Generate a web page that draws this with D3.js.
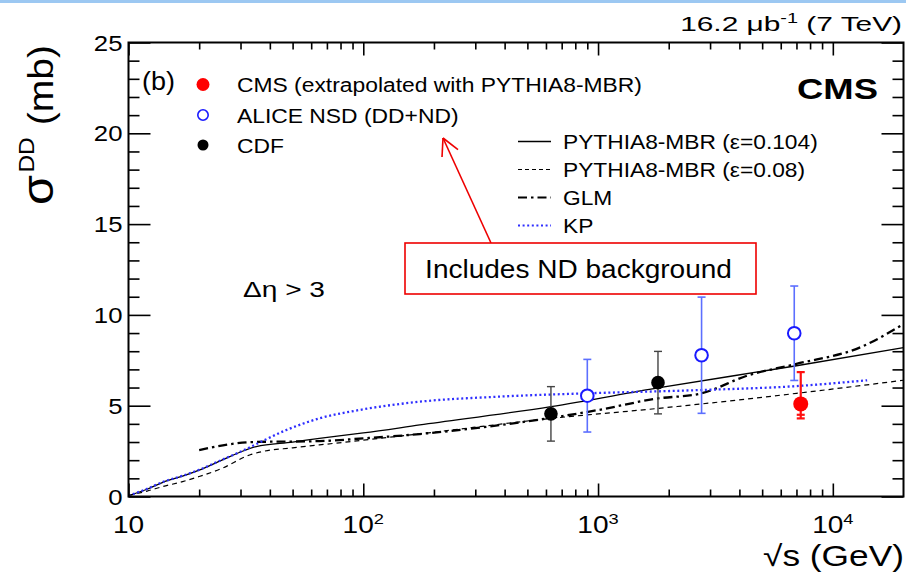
<!DOCTYPE html>
<html><head><meta charset="utf-8">
<script src="https://cdn.jsdelivr.net/npm/d3@7"></script>
<style>
body{margin:0;background:#fff}
svg{display:block}
text{font-family:"Liberation Sans",Arial,Helvetica,sans-serif;fill:#000}
</style>
</head><body>
<svg id="c" width="906" height="574"></svg>
<script>
// ---------------- data ----------------
const cdfSqrtS = [630, 1800];
const cdfSigma = [4.55, 6.27];
const cdfErr = [1.5, 1.72];

const aliceSqrtS = [900, 2760, 6850];
const aliceSigma = [5.55, 7.78, 8.99];
const aliceErr = [2.0, 3.2, 2.6];

const cmsSqrtS = [7300];
const cmsSigma = [5.1];
const cmsErrUp = [1.75];
const cmsErrDown = [0.8];
const cmsErrDownInner = [0.6];

const mbr104S = [10, 12, 14, 17, 20, 25, 31, 35, 50, 65, 100, 174, 630, 1800, 7000, 20000];
const mbr104V = [0.05, 0.4, 0.78, 1.12, 1.45, 2.0, 2.52, 2.75, 3.0, 3.2, 3.5, 3.94, 4.95, 5.98, 7.2, 8.2];
const mbr08S  = [10, 12, 14, 17, 20, 25, 33, 37, 50, 65, 100, 174, 630, 1800, 7000, 20000];
const mbr08V  = [0.05, 0.3, 0.55, 0.82, 1.1, 1.55, 2.3, 2.47, 2.68, 2.84, 3.1, 3.45, 4.3, 4.85, 5.68, 6.4];
const glmS = [20, 34, 65, 100, 174, 630, 1000, 1800, 2700, 4400, 7000, 13300, 20000];
const glmV = [2.56, 3.0, 3.05, 3.2, 3.44, 4.33, 4.76, 5.4, 5.65, 6.69, 7.3, 8.25, 9.5];
const kpS = [10, 12, 14, 17, 20, 25, 31, 36, 47, 65, 96, 174, 380, 890, 2700, 7000, 14000];
const kpV = [0.05, 0.42, 0.8, 1.14, 1.47, 2.02, 2.55, 2.96, 3.66, 4.3, 4.76, 5.22, 5.5, 5.68, 5.86, 6.08, 6.4];

const yMajorTicks = [0, 5, 10, 15, 20, 25];
const xMajorTicks = [10, 100, 1000, 10000];
const xTickLabels = [["10", ""], ["10", "2"], ["10", "3"], ["10", "4"]];

const legendPoints = ["CMS (extrapolated with PYTHIA8-MBR)", "ALICE NSD (DD+ND)", "CDF"];
const legendCurves = ["PYTHIA8-MBR (\u03b5=0.104)", "PYTHIA8-MBR (\u03b5=0.08)", "GLM", "KP"];

// ---------------- setup ----------------
const svg = d3.select("#c");
const L = 128.5, R = 903.5, T = 42.5, B = 496.5;
const x = d3.scaleLog().domain([10, 20000]).range([L, R]);
const y = d3.scaleLinear().domain([0, 25]).range([B, T]);

svg.append("rect").attr("x", 0).attr("y", 0).attr("width", 906).attr("height", 3).attr("fill", "#9cc8f2");

function addText(g, str, px, py, o) {
  const t = g.append("text")
    .attr("text-anchor", o.anchor || "start")
    .style("font-size", o.size + "px")
    .style("font-weight", o.weight || "normal");
  if (str !== null) t.text(str);
  t.attr("transform", `translate(${px},${py}) scale(${o.sx || 1},1)`);
  return t;
}
function fitWidth(t, px, py, target) {
  const w = t.node().getBBox().width;
  const s = target / w;
  t.attr("transform", `translate(${px},${py}) scale(${s},1)`);
  return s;
}

// ---------------- curves ----------------
const line = d3.line().x(d => x(d[0])).y(d => y(d[1])).curve(d3.curveMonotoneX);
const gc = svg.append("g");
function curve(S, V, style) {
  gc.append("path").datum(S.map((s, i) => [s, V[i]]))
    .attr("d", line).attr("fill", "none")
    .attr("stroke", style.color).attr("stroke-width", style.w)
    .attr("stroke-dasharray", style.dash || null);
}
const styles = [
  {color: "#000", w: 1.3},
  {color: "#000", w: 1.2, dash: "5,4"},
  {color: "#000", w: 2.3, dash: "9,4,2.5,4"},
  {color: "#2f2fff", w: 2.3, dash: "2,2.6"}
];
curve(mbr104S, mbr104V, styles[0]);
curve(mbr08S, mbr08V, styles[1]);
curve(glmS, glmV, styles[2]);
curve(kpS, kpV, styles[3]);

// ---------------- data points ----------------
const gp = svg.append("g");
function errBar(cx, y1, y2, color, w) {
  gp.append("line").attr("x1", cx).attr("x2", cx).attr("y1", y1).attr("y2", y2).attr("stroke", color).attr("stroke-width", w);
}
function cap(cx, cy, color, w) {
  gp.append("line").attr("x1", cx - 4).attr("x2", cx + 4).attr("y1", cy).attr("y2", cy).attr("stroke", color).attr("stroke-width", w);
}
cdfSqrtS.forEach((s, i) => {
  const cx = x(s);
  errBar(cx, y(cdfSigma[i] - cdfErr[i]), y(cdfSigma[i] + cdfErr[i]), "#444", 1.4);
  cap(cx, y(cdfSigma[i] - cdfErr[i]), "#444", 1.4);
  cap(cx, y(cdfSigma[i] + cdfErr[i]), "#444", 1.4);
  gp.append("circle").attr("cx", cx).attr("cy", y(cdfSigma[i])).attr("r", 6.8).attr("fill", "#000");
});
aliceSqrtS.forEach((s, i) => {
  const cx = x(s);
  errBar(cx, y(aliceSigma[i] - aliceErr[i]), y(aliceSigma[i] + aliceErr[i]), "#5c6fff", 1.6);
  cap(cx, y(aliceSigma[i] - aliceErr[i]), "#5c6fff", 1.6);
  cap(cx, y(aliceSigma[i] + aliceErr[i]), "#5c6fff", 1.6);
  gp.append("circle").attr("cx", cx).attr("cy", y(aliceSigma[i])).attr("r", 6.3)
    .attr("fill", "#fff").attr("stroke", "#1a1aff").attr("stroke-width", 2);
});
cmsSqrtS.forEach((s, i) => {
  const cx = x(s);
  errBar(cx, y(cmsSigma[i] - cmsErrDown[i]), y(cmsSigma[i] + cmsErrUp[i]), "#ff1010", 2.2);
  cap(cx, y(cmsSigma[i] + cmsErrUp[i]), "#ff1010", 2.2);
  cap(cx, y(cmsSigma[i] - cmsErrDown[i]), "#ff1010", 2.2);
  cap(cx, y(cmsSigma[i] - cmsErrDownInner[i]), "#ff1010", 2.2);
  gp.append("circle").attr("cx", cx).attr("cy", y(cmsSigma[i])).attr("r", 7.5).attr("fill", "#ff0000");
});

// ---------------- axes (ticks) ----------------
const xMinor = [];
[10, 100, 1000, 10000].forEach(d => { for (let k = 2; k <= 9; k++) { const v = d * k; if (v < 20000) xMinor.push(v); } });
const yMinor = d3.range(0, 26).filter(v => v % 5 !== 0);

function styleAxis(g) {
  g.select(".domain").remove();
  g.selectAll("line").attr("stroke", "#000").attr("stroke-width", 1.6);
  g.selectAll("text").remove();
}
svg.append("g").attr("transform", `translate(0,${B})`).call(d3.axisBottom(x).tickValues(xMajorTicks).tickSize(-13).tickFormat("")).call(styleAxis);
svg.append("g").attr("transform", `translate(0,${B})`).call(d3.axisBottom(x).tickValues(xMinor).tickSize(-7).tickFormat("")).call(styleAxis);
svg.append("g").attr("transform", `translate(0,${T})`).call(d3.axisTop(x).tickValues(xMajorTicks).tickSize(-13).tickFormat("")).call(styleAxis);
svg.append("g").attr("transform", `translate(0,${T})`).call(d3.axisTop(x).tickValues(xMinor).tickSize(-7).tickFormat("")).call(styleAxis);
svg.append("g").attr("transform", `translate(${L},0)`).call(d3.axisLeft(y).tickValues(yMajorTicks).tickSize(-22).tickFormat("")).call(styleAxis);
svg.append("g").attr("transform", `translate(${L},0)`).call(d3.axisLeft(y).tickValues(yMinor).tickSize(-11).tickFormat("")).call(styleAxis);
svg.append("g").attr("transform", `translate(${R},0)`).call(d3.axisRight(y).tickValues(yMajorTicks).tickSize(-22).tickFormat("")).call(styleAxis);
svg.append("g").attr("transform", `translate(${R},0)`).call(d3.axisRight(y).tickValues(yMinor).tickSize(-11).tickFormat("")).call(styleAxis);

svg.append("rect").attr("x", L).attr("y", T).attr("width", R - L).attr("height", B - T)
  .attr("fill", "none").attr("stroke", "#000").attr("stroke-width", 2);

// tick labels
const gl = svg.append("g");
yMajorTicks.forEach(v => {
  addText(gl, String(v), L - 6, y(v) + 8, {size: 23, anchor: "end", sx: 1.12});
});
xMajorTicks.forEach((v, i) => {
  const t = addText(gl, null, x(v), 533, {size: 23, anchor: "middle", sx: 1.22});
  t.append("tspan").text(xTickLabels[i][0]);
  if (xTickLabels[i][1]) t.append("tspan").attr("dy", -9).style("font-size", "15px").text(xTickLabels[i][1]);
});

// axis titles
const xt = addText(svg, "\u221As (GeV)", 904, 566, {size: 29, anchor: "end"});
fitWidth(xt, 904, 566, 141);

const yt = svg.append("text").attr("text-anchor", "start");
yt.append("tspan").style("font-size", "40px").text("\u03c3");
yt.append("tspan").style("font-size", "20px").attr("dy", -17).attr("dx", 2).text("DD");
yt.append("tspan").style("font-size", "32px").attr("dy", 17).attr("dx", 10).text("(mb)");
{
  const w = yt.node().getBBox().width;
  yt.attr("transform", `translate(53,205) rotate(-90) scale(${160 / w},1.1)`);
}

// title & labels
const tt = addText(svg, null, 902, 31, {size: 21, anchor: "end"});
tt.append("tspan").text("16.2 \u03bcb");
tt.append("tspan").attr("dy", -8).style("font-size", "14px").text("-1");
tt.append("tspan").attr("dy", 8).text(" (7 TeV)");
fitWidth(tt, 902, 31, 222);

const tb = addText(svg, "(b)", 142, 90, {size: 25});
fitWidth(tb, 142, 90, 33);
const tc = addText(svg, "CMS", 797, 99, {size: 30, weight: "bold"});
fitWidth(tc, 797, 99, 81);
const te = addText(svg, "\u0394\u03b7 > 3", 243, 297, {size: 22});
fitWidth(te, 243, 297, 82);

// ---------------- legends ----------------
const gL = svg.append("g");
const rows1 = [84.5, 115, 145];
let sx1 = 1;
legendPoints.forEach((s, i) => {
  const t = addText(gL, s, 237, rows1[i] + 7.5, {size: 20});
  if (i === 0) sx1 = fitWidth(t, 237, rows1[i] + 7.5, 405);
  else t.attr("transform", `translate(237,${rows1[i] + 7.5}) scale(${sx1},1)`);
});
gL.append("circle").attr("cx", 203).attr("cy", rows1[0]).attr("r", 6.5).attr("fill", "#ff0000");
gL.append("circle").attr("cx", 203).attr("cy", rows1[1]).attr("r", 5.2).attr("fill", "#fff").attr("stroke", "#1a1aff").attr("stroke-width", 1.6);
gL.append("circle").attr("cx", 203).attr("cy", rows1[2]).attr("r", 5.5).attr("fill", "#000");

const rows2 = [141.5, 169.5, 197.5, 225.5];
let sx2 = 1;
legendCurves.forEach((s, i) => {
  const t = addText(gL, s, 563, rows2[i] + 7.5, {size: 20});
  if (i === 0) sx2 = fitWidth(t, 563, rows2[i] + 7.5, 255);
  else t.attr("transform", `translate(563,${rows2[i] + 7.5}) scale(${sx2},1)`);
  gL.append("line").attr("x1", 518).attr("x2", 551).attr("y1", rows2[i]).attr("y2", rows2[i])
    .attr("stroke", styles[i].color).attr("stroke-width", i === 0 ? 1.6 : styles[i].w * 0.9)
    .attr("stroke-dasharray", i === 1 ? "4,3" : (styles[i].dash || null));
});

// ---------------- annotation ----------------
const ga = svg.append("g");
const tip = [443, 138], tail = [491, 243];
ga.append("line").attr("x1", tail[0]).attr("y1", tail[1]).attr("x2", tip[0]).attr("y2", tip[1]).attr("stroke", "#ee0000").attr("stroke-width", 1.6);
{
  const dx = tail[0] - tip[0], dy = tail[1] - tip[1], len = Math.hypot(dx, dy);
  const ux = dx / len, uy = dy / len, a = 0.48, h = 19;
  [a, -a].forEach(an => {
    const rx = ux * Math.cos(an) - uy * Math.sin(an), ry = ux * Math.sin(an) + uy * Math.cos(an);
    ga.append("line").attr("x1", tip[0]).attr("y1", tip[1]).attr("x2", tip[0] + rx * h).attr("y2", tip[1] + ry * h)
      .attr("stroke", "#ee0000").attr("stroke-width", 1.6);
  });
}
ga.append("rect").attr("x", 405).attr("y", 243).attr("width", 351).attr("height", 51)
  .attr("fill", "#fff").attr("stroke", "#ee0000").attr("stroke-width", 1.6);
const ta = addText(ga, "Includes ND background", 578.5, 278, {size: 26, anchor: "middle"});
fitWidth(ta, 578.5, 278, 307);
</script>
</body></html>
